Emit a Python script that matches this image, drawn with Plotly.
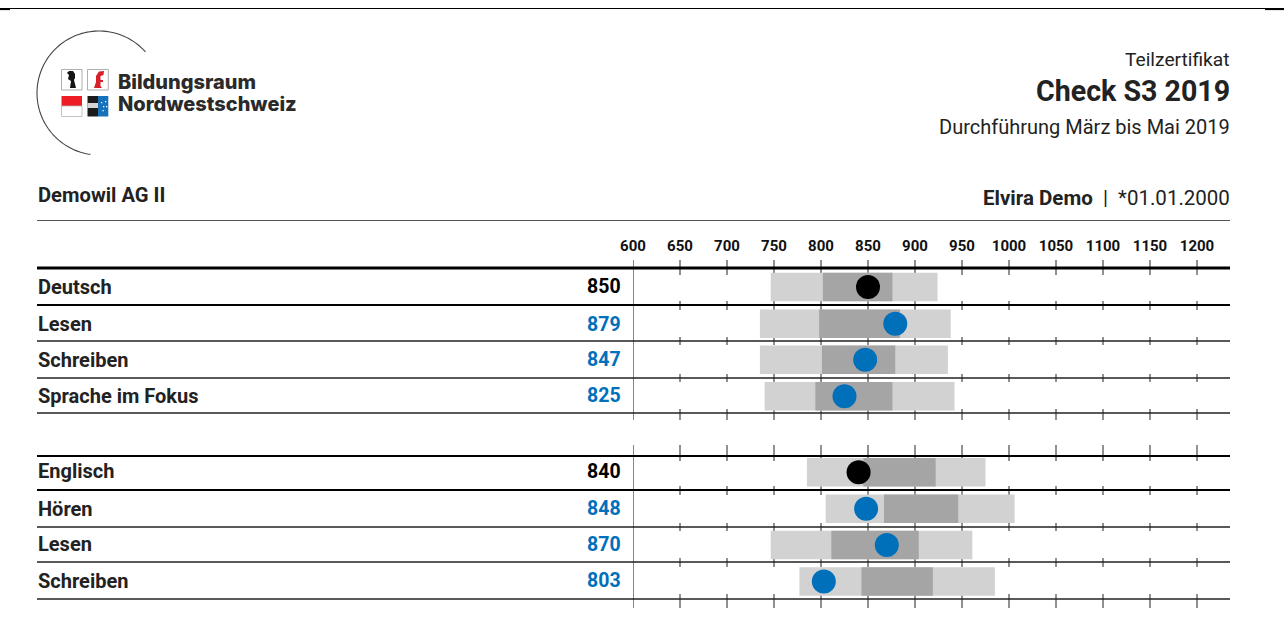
import numpy as np
import plotly.graph_objects as go

# ---- data ----
subjects = ["Deutsch", "Lesen", "Schreiben", "Sprache im Fokus",
            "Englisch", "Hören", "Lesen", "Schreiben"]
scores = [850, 879, 847, 825, 840, 848, 870, 803]
light_low = [746.5, 735, 735, 740, 785, 805, 746.5, 777]
light_high = [924, 938, 935, 942, 975, 1006, 961, 985]
dark_low = [802, 798, 801, 794, 845, 867, 811, 843]
dark_high = [876, 884, 879, 876, 922, 946, 904, 919]
is_total = [True, False, False, False, True, False, False, False]
x_ticks = list(range(600, 1201, 50))

# ---- layout helpers (page pixels) ----
W, H = 1284, 627
BLUE, INK = "#0070bb", "#222222"
PX_PER = 0.94
X0 = 633; X1 = 1230
row_pos = [0, 1.01, 2, 3, 5.09, 6.09, 7.09, 8.09]
label_y = [286.5, 324, 359.5, 395.5, 471, 508.5, 544, 580.5]
ROW0, ROWH = 287, 36.4
def ry(px):
    return (px - ROW0) / ROWH
def px(x): return x / W
def py(y): return 1 - y / H

fig = go.Figure()
BAR_H = 28.5 / ROWH
fig.add_bar(y=row_pos, x=[h - l for l, h in zip(light_low, light_high)], base=light_low,
            orientation="h", width=BAR_H, marker=dict(color="#d2d2d2", line_width=0),
            hoverinfo="skip", showlegend=False)
fig.add_bar(y=row_pos, x=[h - l for l, h in zip(dark_low, dark_high)], base=dark_low,
            orientation="h", width=BAR_H, marker=dict(color="#a6a5a5", line_width=0),
            hoverinfo="skip", showlegend=False)
fig.update_layout(barmode="overlay")
fig.add_scatter(y=row_pos, x=scores, mode="markers",
                marker=dict(size=24, color=["#000000" if t else BLUE for t in is_total], line_width=0),
                showlegend=False, hoverinfo="x")

shapes = []
def hline(y, w, x0=37, x1=X1, color="#111111"):
    shapes.append(dict(type="line", xref="paper", yref="paper", x0=px(x0), x1=px(x1),
                       y0=py(y), y1=py(y), line=dict(color=color, width=w), layer="above"))

# rule lines with the small ticks crossing each
rules = [(268, 3.2, 260, 275), (305, 2, 301, 310), (341, 1.3, 337, 345), (378, 1.3, 374, 382),
         (413, 1.3, 409, 420), (456, 2.2, 445, 461), (490, 2, 486, 495), (527, 1.3, 523, 531),
         (562, 1.3, 558, 567), (599, 1.3, 594, 608)]
for y, w, a, b in rules:
    hline(y, w, color="#000000" if w > 1.5 else "#222222")
    for t in x_ticks[1:]:
        shapes.append(dict(type="line", xref="x", yref="y", x0=t, x1=t, y0=ry(a), y1=ry(b),
                           line=dict(color="#222222", width=1), layer="below"))
for a, b in [(260, 420), (445, 608)]:
    shapes.append(dict(type="line", xref="x", yref="y", x0=600, x1=600, y0=ry(a), y1=ry(b),
                       line=dict(color="#111111", width=1), layer="above"))
hline(220.5, 1, color="#555555")
hline(8.5, 1, x0=0, x1=W, color="#000000")
hline(9.3, 1.6, x0=0, x1=10, color="#000000")
hline(9.3, 1.6, x0=1265, x1=W, color="#000000")

# logo: arc
ang = np.radians(np.linspace(-41.5, -262, 90))
path = "M " + " L ".join(f"{px(99 + 62 * np.cos(a)):.5f},{py(93 + 62 * np.sin(a)):.5f}" for a in ang)
shapes.append(dict(type="path", xref="paper", yref="paper", path=path, line=dict(color="#444444", width=1.1)))

def rect(x0, y0, x1, y1, fill, line=None):
    shapes.append(dict(type="rect", xref="paper", yref="paper", x0=px(x0), x1=px(x1), y0=py(y0), y1=py(y1),
                       fillcolor=fill, line=dict(color=line or fill, width=0.8 if line else 0)))
def poly(points, fill):
    p = "M " + " L ".join(f"{px(a):.5f},{py(b):.5f}" for a, b in points) + " Z"
    shapes.append(dict(type="path", xref="paper", yref="paper", path=p, fillcolor=fill, line=dict(width=0)))

rect(61.5, 69.5, 82, 90, "#ffffff", "#9a9a9a")
rect(87.5, 69.5, 108.3, 90, "#ffffff", "#9a9a9a")
poly([(67, 73), (69, 71), (73, 71), (75, 74), (75, 78), (74, 80), (76, 88), (70, 88), (71, 81), (68, 79), (69, 75)], "#151515")
poly([(94, 88), (96, 82), (96, 76), (99, 71.5), (104, 71), (103.5, 75), (100.5, 76), (100.5, 80), (103, 80), (103, 82), (100.5, 82), (100.5, 86), (102, 88)], "#d8202a")
rect(61.5, 96, 82, 106, "#ee1c25")
rect(61.5, 106, 82, 116.5, "#ffffff", "#b5b5b5")
rect(87.5, 96, 98, 116.5, "#1c1c1c")
rect(87.5, 103, 98, 108, "#d5d5d5")
rect(98, 96, 108.3, 116.5, "#1673bb")
for a, b in [(101, 102), (105, 101), (103, 106), (106, 106), (102.5, 110)]:
    rect(a, b, a + 1.3, b + 1.3, "#ffffff")

ann = []
def text(x, y, s, size, anchor="left", color=INK, bold=False, family="Roboto", weight=None):
    ann.append(dict(xref="paper", yref="paper", x=px(x), y=py(y), text=f"<b>{s}</b>" if bold else s,
                    showarrow=False, xanchor=anchor, yanchor="middle",
                    font=dict(family=family, size=size, color=color, weight=weight),
                    borderpad=0, borderwidth=0))

text(118, 82.5, "Bildungsraum", 20, color="#2a2a2a", family="Inter", weight=800)
text(118, 104.5, "Nordwestschweiz", 20, color="#2a2a2a", family="Inter", weight=800)
text(1230, 59.5, "Teilzertifikat", 19.2, "right")
text(1230, 91, "Check S3 2019", 28.6, "right", bold=True)
text(1230, 127, "Durchführung März bis Mai 2019", 20, "right")
text(38, 195, "Demowil AG II", 20.2, bold=True)
text(1230, 198, "<b>Elvira Demo</b>\u00a0\u00a0|\u00a0\u00a0*01.01.2000", 20.5, "right")
for s, v, ly, tot in zip(subjects, scores, label_y, is_total):
    text(37.5, ly, s, 20, bold=True)
    text(621, ly, str(v), 19.5, "right", color="#000000" if tot else BLUE, bold=True)

fig.update_layout(
    width=W, height=H, margin=dict(l=0, r=0, t=0, b=0, autoexpand=False),
    paper_bgcolor="white", plot_bgcolor="white",
    shapes=shapes, annotations=ann,
    xaxis=dict(domain=[X0 / W, X1 / W], range=[600, 600 + (X1 - X0) / PX_PER],
               side="top", anchor="free", position=py(254), tickmode="array", tickvals=x_ticks,
               ticks="", showgrid=False, zeroline=False, showline=False,
               tickfont=dict(family="Roboto", size=15, color="#111111", weight="bold")),
    yaxis=dict(domain=[0, 1], range=[ry(H), ry(0)], visible=False),
)
fig.write_html("out.html", config=dict(displayModeBar=False),
               post_script="document.body.style.margin='0';")
